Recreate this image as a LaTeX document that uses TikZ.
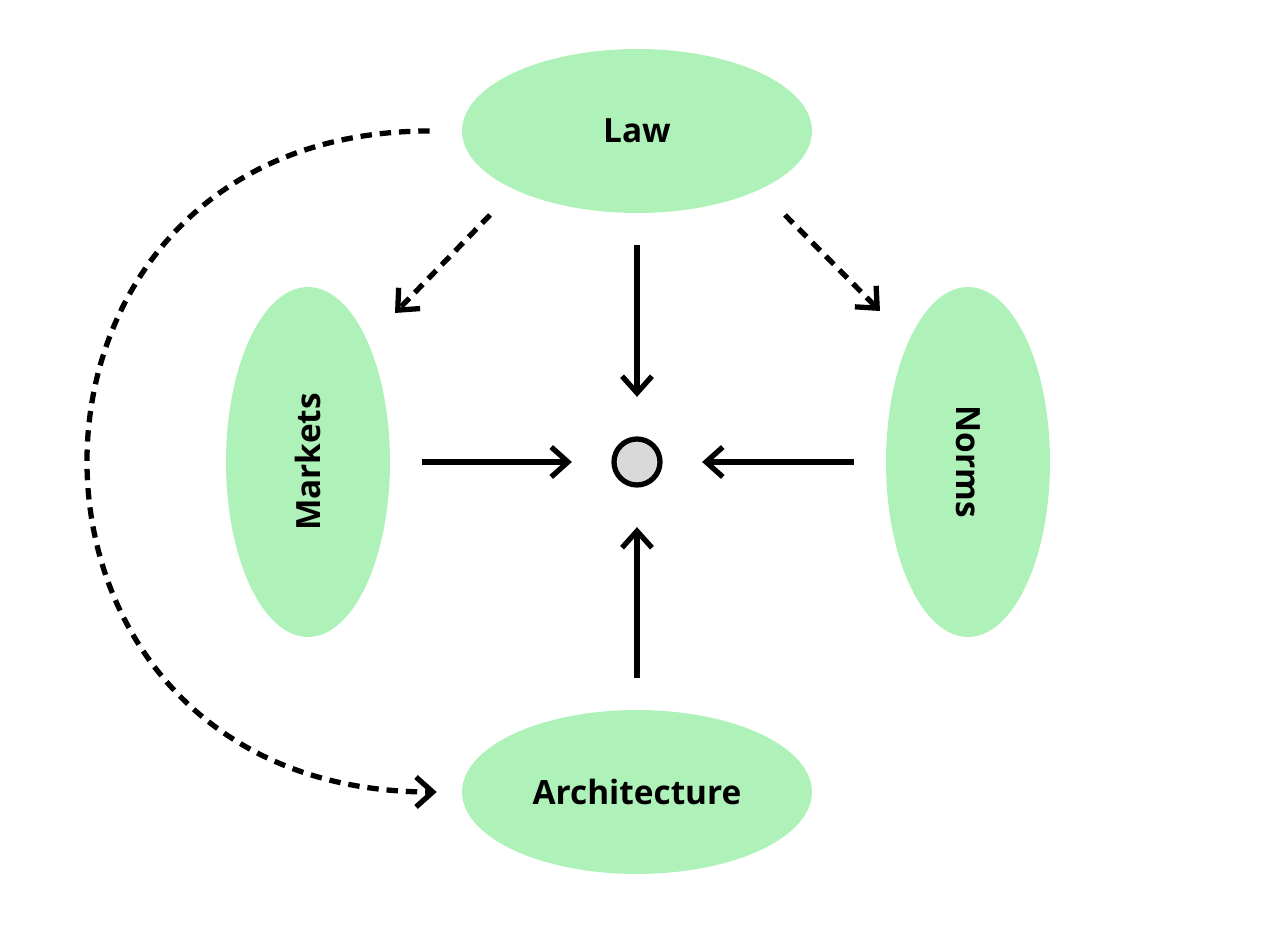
\documentclass[tikz,border=0pt]{standalone}
\usepackage{fontspec}
\setmainfont{Open Sans}
\usetikzlibrary{shapes.geometric,arrows.meta}
\definecolor{MRzelena}{HTML}{AEF2B9}
\definecolor{MRsiva}{HTML}{D9D9D9}

\begin{document}
\begin{tikzpicture}[x=0.02cm,y=0.02cm,font=\fontsize{19}{21}\selectfont\bfseries,
 sila/.style={ellipse,fill=MRzelena,inner sep=0pt,minimum width=7cm,minimum height=3.28cm},
 strelica/.style={line width=3pt,-{Straight Barb[length=9.5pt,width=17pt]},shorten <=0.64cm,shorten >=0.79cm},
 tockasta/.style={line width=3pt,dash pattern=on 6.5pt off 4.5pt,-{Straight Barb[length=9.5pt,width=17pt]}}]
\useasboundingbox (0,0) rectangle (1278,926);
\node[sila] (law) at (637,795) {Law};
\node[sila,rotate=90] (markets) at (308,464) {Markets};
\node[sila,rotate=-90] (norms) at (968,464) {Norms};
\node[sila] (arch) at (637,134) {Architecture};
\node[circle,draw,line width=3pt,fill=MRsiva,minimum size=0.92cm,inner sep=0pt] (hub) at (637,464) {};
% prema sredini
\foreach \izvor in {law,markets,norms,arch}{\draw[strelica] (\izvor) -- (hub);}
% isprekidane
\draw[tockasta] ([shift={(-147,-84)}]law.center) -- ([shift={(87,149)}]markets.center);
\draw[tockasta] ([shift={(148,-84)}]law.center) -- ([shift={(-88,151)}]norms.center);
\draw[tockasta] ([shift={(-32,0)}]law.west) .. controls ([shift={(-489,0)}]law.west) and ([shift={(-489,0)}]arch.west) .. ([shift={(-25,0)}]arch.west);
\end{tikzpicture}
\end{document}
